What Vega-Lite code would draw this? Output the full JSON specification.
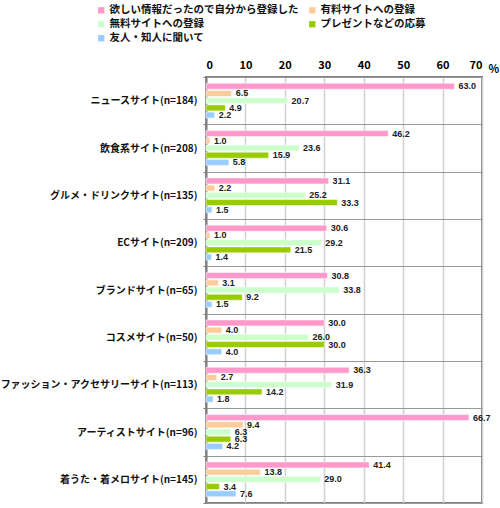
{
  "$schema": "https://vega.github.io/schema/vega-lite/v6.json",
  "autosize": "none",
  "padding": {"left": 206, "top": 77, "right": 18, "bottom": 5},
  "width": 276,
  "height": 426,
  "background": "white",
  "data": {
    "values": [
      {"site": "ニュースサイト(n=184)", "type": "欲しい情報だったので自分から登録した", "pct": 63.0},
      {"site": "ニュースサイト(n=184)", "type": "有料サイトへの登録", "pct": 6.5},
      {"site": "ニュースサイト(n=184)", "type": "無料サイトへの登録", "pct": 20.7},
      {"site": "ニュースサイト(n=184)", "type": "プレゼントなどの応募", "pct": 4.9},
      {"site": "ニュースサイト(n=184)", "type": "友人・知人に聞いて", "pct": 2.2},
      {"site": "飲食系サイト(n=208)", "type": "欲しい情報だったので自分から登録した", "pct": 46.2},
      {"site": "飲食系サイト(n=208)", "type": "有料サイトへの登録", "pct": 1.0},
      {"site": "飲食系サイト(n=208)", "type": "無料サイトへの登録", "pct": 23.6},
      {"site": "飲食系サイト(n=208)", "type": "プレゼントなどの応募", "pct": 15.9},
      {"site": "飲食系サイト(n=208)", "type": "友人・知人に聞いて", "pct": 5.8},
      {"site": "グルメ・ドリンクサイト(n=135)", "type": "欲しい情報だったので自分から登録した", "pct": 31.1},
      {"site": "グルメ・ドリンクサイト(n=135)", "type": "有料サイトへの登録", "pct": 2.2},
      {"site": "グルメ・ドリンクサイト(n=135)", "type": "無料サイトへの登録", "pct": 25.2},
      {"site": "グルメ・ドリンクサイト(n=135)", "type": "プレゼントなどの応募", "pct": 33.3},
      {"site": "グルメ・ドリンクサイト(n=135)", "type": "友人・知人に聞いて", "pct": 1.5},
      {"site": "ECサイト(n=209)", "type": "欲しい情報だったので自分から登録した", "pct": 30.6},
      {"site": "ECサイト(n=209)", "type": "有料サイトへの登録", "pct": 1.0},
      {"site": "ECサイト(n=209)", "type": "無料サイトへの登録", "pct": 29.2},
      {"site": "ECサイト(n=209)", "type": "プレゼントなどの応募", "pct": 21.5},
      {"site": "ECサイト(n=209)", "type": "友人・知人に聞いて", "pct": 1.4},
      {"site": "ブランドサイト(n=65)", "type": "欲しい情報だったので自分から登録した", "pct": 30.8},
      {"site": "ブランドサイト(n=65)", "type": "有料サイトへの登録", "pct": 3.1},
      {"site": "ブランドサイト(n=65)", "type": "無料サイトへの登録", "pct": 33.8},
      {"site": "ブランドサイト(n=65)", "type": "プレゼントなどの応募", "pct": 9.2},
      {"site": "ブランドサイト(n=65)", "type": "友人・知人に聞いて", "pct": 1.5},
      {"site": "コスメサイト(n=50)", "type": "欲しい情報だったので自分から登録した", "pct": 30.0},
      {"site": "コスメサイト(n=50)", "type": "有料サイトへの登録", "pct": 4.0},
      {"site": "コスメサイト(n=50)", "type": "無料サイトへの登録", "pct": 26.0},
      {"site": "コスメサイト(n=50)", "type": "プレゼントなどの応募", "pct": 30.0},
      {"site": "コスメサイト(n=50)", "type": "友人・知人に聞いて", "pct": 4.0},
      {"site": "ファッション・アクセサリーサイト(n=113)", "type": "欲しい情報だったので自分から登録した", "pct": 36.3},
      {"site": "ファッション・アクセサリーサイト(n=113)", "type": "有料サイトへの登録", "pct": 2.7},
      {"site": "ファッション・アクセサリーサイト(n=113)", "type": "無料サイトへの登録", "pct": 31.9},
      {"site": "ファッション・アクセサリーサイト(n=113)", "type": "プレゼントなどの応募", "pct": 14.2},
      {"site": "ファッション・アクセサリーサイト(n=113)", "type": "友人・知人に聞いて", "pct": 1.8},
      {"site": "アーティストサイト(n=96)", "type": "欲しい情報だったので自分から登録した", "pct": 66.7},
      {"site": "アーティストサイト(n=96)", "type": "有料サイトへの登録", "pct": 9.4},
      {"site": "アーティストサイト(n=96)", "type": "無料サイトへの登録", "pct": 6.3},
      {"site": "アーティストサイト(n=96)", "type": "プレゼントなどの応募", "pct": 6.3},
      {"site": "アーティストサイト(n=96)", "type": "友人・知人に聞いて", "pct": 4.2},
      {"site": "着うた・着メロサイト(n=145)", "type": "欲しい情報だったので自分から登録した", "pct": 41.4},
      {"site": "着うた・着メロサイト(n=145)", "type": "有料サイトへの登録", "pct": 13.8},
      {"site": "着うた・着メロサイト(n=145)", "type": "無料サイトへの登録", "pct": 29.0},
      {"site": "着うた・着メロサイト(n=145)", "type": "プレゼントなどの応募", "pct": 3.4},
      {"site": "着うた・着メロサイト(n=145)", "type": "友人・知人に聞いて", "pct": 7.6}
    ]
  },
  "encoding": {
    "y": {
      "field": "site",
      "type": "nominal",
      "sort": null,
      "scale": {"paddingInner": 0, "paddingOuter": 0},
      "axis": {
        "title": null,
        "tickBand": "extent",
        "grid": true,
        "gridColor": "#999999",
        "gridWidth": 1,
        "domain": true,
        "domainColor": "#808080",
        "domainWidth": 2,
        "tickColor": "#808080",
        "tickSize": 3,
        "labelPadding": 6,
        "labelLimit": 0,
        "labelFontSize": 10,
        "labelFontWeight": "bold",
        "labelColor": "#111111",
        "labelFont": "Noto Sans CJK JP"
      }
    },
    "yOffset": {
      "field": "type",
      "type": "nominal",
      "sort": null,
      "scale": {"paddingInner": 0.17, "paddingOuter": 0.87}
    },
    "x": {
      "field": "pct",
      "type": "quantitative",
      "scale": {"domain": [0, 70], "nice": false},
      "axis": {
        "orient": "top",
        "values": [0, 10, 20, 30, 40, 50, 60, 70],
        "title": "%",
        "titleX": 282,
        "titleY": -8,
        "titleAlign": "left",
        "titleBaseline": "middle",
        "titleFontSize": 11,
        "titleFontWeight": "bold",
        "titleFont": "Noto Sans CJK JP",
        "grid": true,
        "gridColor": "#d0d0d0",
        "gridWidth": 1.5,
        "domain": false,
        "ticks": false,
        "labelPadding": 7,
        "labelFontSize": 11,
        "labelFontWeight": "bold",
        "labelColor": "#000000",
        "labelFont": "Noto Sans CJK JP"
      }
    }
  },
  "layer": [
    {
      "mark": {"type": "bar", "stroke": "white", "strokeWidth": 0.5},
      "encoding": {
        "color": {
          "field": "type",
          "type": "nominal",
          "sort": null,
          "scale": {
            "domain": ["欲しい情報だったので自分から登録した", "有料サイトへの登録", "無料サイトへの登録", "プレゼントなどの応募", "友人・知人に聞いて"],
            "range": ["#ff99cc", "#ffcc99", "#ccffcc", "#99cc00", "#99ccff"]
          },
          "legend": {
            "title": null,
            "orient": "none",
            "direction": "horizontal",
            "legendX": -110,
            "legendY": -72,
            "columns": 2,
            "columnPadding": 8,
            "rowPadding": 3,
            "symbolType": "square",
            "symbolSize": 40,
            "symbolStrokeWidth": 0,
            "labelLimit": 0,
            "labelFontSize": 10.5,
            "labelFontWeight": "bold",
            "labelColor": "#111111",
            "labelFont": "Noto Sans CJK JP",
            "labelOffset": 3
          }
        }
      }
    },
    {
      "mark": {"type": "text", "align": "left", "baseline": "middle", "dx": 4, "fontSize": 9, "fontWeight": "bold", "font": "Liberation Sans", "color": "#222222"},
      "encoding": {
        "text": {"field": "pct", "type": "quantitative", "format": ".1f"}
      }
    }
  ],
  "config": {
    "view": {"stroke": "#808080", "strokeWidth": 2}
  }
}
